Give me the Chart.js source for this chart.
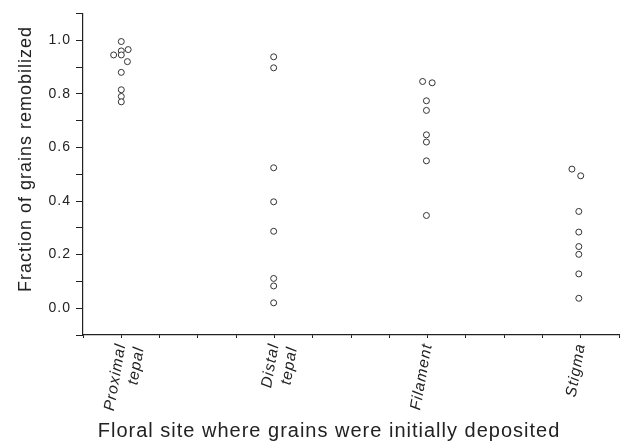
<!DOCTYPE html>
<html>
<head>
<meta charset="utf-8">
<script src="https://cdn.jsdelivr.net/npm/chart.js@4"></script>
<style>
  html, body { margin: 0; padding: 0; background: #fff; }
  #wrap { width: 624px; height: 443px; }
</style>
</head>
<body>
<div id="wrap"><canvas id="myChart"></canvas></div>
<script>
const categories = [['Proximal', 'tepal'], ['Distal', 'tepal'], ['Filament'], ['Stigma']];
const labelPos = [1, 5, 9, 13];

const proximalX = [1.0, 1.18, 1.0, 0.8, 1.0, 1.16, 1.0, 1.0, 1.0, 1.0];
const proximalY = [0.995, 0.965, 0.96, 0.945, 0.945, 0.92, 0.88, 0.815, 0.79, 0.77];
const distalX = [4.98, 4.98, 4.98, 4.98, 4.98, 4.98, 4.98, 4.98];
const distalY = [0.938, 0.897, 0.524, 0.397, 0.287, 0.111, 0.083, 0.02];
const filamentX = [8.87, 9.12, 8.97, 8.97, 8.97, 8.97, 8.97, 8.97];
const filamentY = [0.846, 0.841, 0.774, 0.738, 0.647, 0.62, 0.55, 0.346];
const stigmaX = [12.77, 13.0, 12.95, 12.95, 12.95, 12.95, 12.95, 12.95];
const stigmaY = [0.519, 0.494, 0.361, 0.284, 0.23, 0.201, 0.128, 0.037];

const yTicks = [0.0, 0.2, 0.4, 0.6, 0.8, 1.0];

const xTitle = 'Floral site where grains were initially deposited';
const yTitle = 'Fraction of grains remobilized';

function pts(xs, ys) {
    return xs.map((x, i) => ({ x: x, y: ys[i] }));
}

function dot(name, xs, ys) {
    return {
        label: name,
        data: pts(xs, ys),
        showLine: false,
        pointStyle: 'circle',
        pointRadius: 3,
        borderWidth: 1,
        borderColor: '#333',
        backgroundColor: '#fff'
    };
}

// the original text is set with a little extra tracking
const spacing = {
    id: 'spacing',
    beforeLayout: c => { c.ctx.letterSpacing = '1px'; },
    beforeDraw: c => { c.ctx.letterSpacing = '1px'; }
};

// axis titles in the original sit a bit off the axis centres
const axisTitles = {
    id: 'axisTitles',
    afterDraw: c => {
        const g = c.ctx;
        g.save();
        g.letterSpacing = '1px';
        g.fillStyle = '#222';
        g.textAlign = 'center';
        g.textBaseline = 'middle';
        g.font = '20px "Liberation Sans", Arial';
        g.fillText(xTitle, 329, 431);
        g.translate(26, 159);
        g.rotate(-Math.PI / 2);
        g.font = '18px "Liberation Sans", Arial';
        g.fillText(yTitle, 0, 0);
        g.restore();
    }
};

const ctx = document.getElementById('myChart');

new Chart(ctx, {
    type: 'scatter',
    data: {
        datasets: [
            dot('Proximal tepal', proximalX, proximalY),
            dot('Distal tepal', distalX, distalY),
            dot('Filament', filamentX, filamentY),
            dot('Stigma', stigmaX, stigmaY)
        ]
    },
    plugins: [spacing, axisTitles],
    options: {
        responsive: true,
        maintainAspectRatio: false,
        animation: false,
        layout: { padding: { top: 4, right: 5, left: 0, bottom: 0 } },
        plugins: {
            legend: { display: false },
            tooltip: { enabled: false }
        },
        scales: {
            x: {
                type: 'linear',
                min: 0,
                max: 14,
                afterBuildTicks: s => {
                    const t = [];
                    for (let i = 0; i <= 14; i++) t.push({ value: i });
                    s.ticks = t;
                },
                afterFit: s => {
                    s.height = 108;
                    s.paddingLeft = 0;
                    s.paddingRight = 0;
                },
                border: { display: true, color: '#222', width: 1.2 },
                grid: { drawOnChartArea: false, tickLength: 3, color: '#222' },
                ticks: {
                    autoSkip: false,
                    maxRotation: 80,
                    minRotation: 80,
                    padding: 4,
                    color: '#222',
                    font: { family: 'Liberation Sans, Arial', size: 15.5, style: 'italic' },
                    callback: v => {
                        const k = labelPos.indexOf(v);
                        return k >= 0 ? categories[k] : '';
                    }
                }
            },
            y: {
                min: -0.1,
                max: 1.1,
                afterBuildTicks: s => {
                    const t = [];
                    for (let i = -1; i <= 11; i++) t.push({ value: i / 10 });
                    s.ticks = t;
                },
                afterFit: s => { s.width = 83; },
                border: { display: true, color: '#222', width: 1.2 },
                grid: { drawOnChartArea: false, tickLength: 7, color: '#222' },
                ticks: {
                    autoSkip: false,
                    padding: 5,
                    color: '#222',
                    font: { family: 'Liberation Sans, Arial', size: 14 },
                    callback: v => {
                        const r = Math.round(v * 10) / 10;
                        return yTicks.some(t => Math.abs(t - r) < 1e-6) ? r.toFixed(1) : '';
                    }
                }
            }
        }
    }
});
</script>
</body>
</html>
